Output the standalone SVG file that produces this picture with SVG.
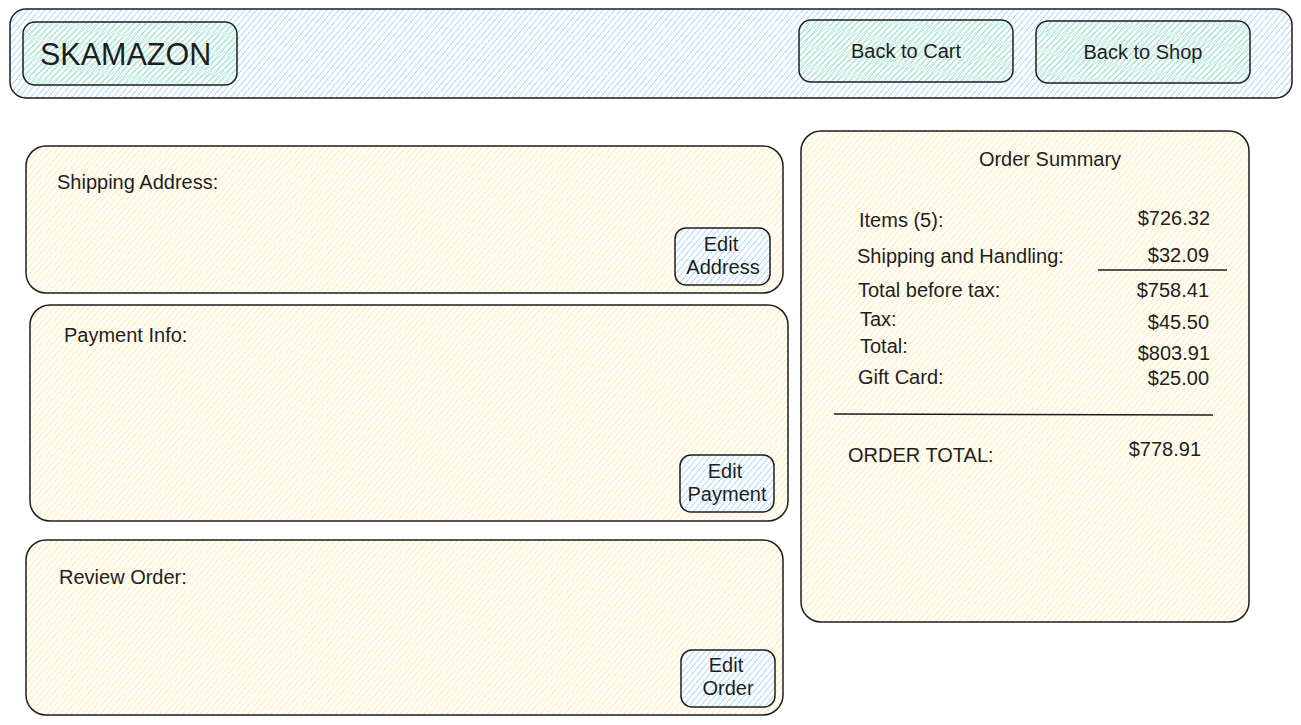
<svg xmlns="http://www.w3.org/2000/svg" width="1301" height="725" viewBox="0 0 1301 725">
<defs>
<pattern id="hBlue" width="4.5" height="4.5" patternUnits="userSpaceOnUse" patternTransform="rotate(40)">
<rect width="4.5" height="4.5" fill="#ffffff"/>
<line x1="0" y1="0" x2="0" y2="4.5" stroke="#74c0fc" stroke-width="1.2"/>
</pattern>
<pattern id="hYellow" width="4.5" height="4.5" patternUnits="userSpaceOnUse" patternTransform="rotate(40)">
<line x1="0" y1="0" x2="0" y2="4.5" stroke="#ffe066" stroke-width="1.2"/>
</pattern>
<pattern id="hGreen" width="4" height="4" patternUnits="userSpaceOnUse" patternTransform="rotate(50)">
<line x1="0" y1="0" x2="0" y2="4" stroke="#8ce99a" stroke-width="1.2"/>
</pattern>
</defs>
<style>
.box{stroke:#1e1e1e;stroke-width:1.5;}
.blue{fill:url(#hBlue);}
.yellow{fill:url(#hYellow);}
.green{fill:url(#hGreen);}
text{font-family:"Liberation Sans",Arial,sans-serif;font-size:20px;fill:#1e1e1e;}
.mid{text-anchor:middle;}
.end{text-anchor:end;}
.rule{stroke:#1e1e1e;stroke-width:1.5;fill:none;}
</style>
<rect width="1301" height="725" fill="#ffffff"/>

<g id="header">
<rect class="box blue" x="10" y="9" width="1282" height="89" rx="16"/>
</g>
<g id="logo">
<rect class="box green" x="23" y="22" width="214" height="63" rx="12"/>
<text x="40" y="65" style="font-size:30.5px">SKAMAZON</text>
</g>
<g id="back-to-cart">
<rect class="box green" x="799" y="20" width="214" height="62" rx="12"/>
<text class="mid" x="906" y="58">Back to Cart</text>
</g>
<g id="back-to-shop">
<rect class="box green" x="1036" y="21" width="214" height="62" rx="12"/>
<text class="mid" x="1143" y="59">Back to Shop</text>
</g>

<g id="shipping-address">
<rect class="box yellow" x="26" y="146" width="757" height="147" rx="20"/>
<text x="57" y="189">Shipping Address:</text>
</g>
<g id="edit-address">
<rect class="box blue" x="675" y="228" width="95" height="57" rx="11"/>
<text class="mid" x="721" y="251">Edit</text>
<text class="mid" x="723" y="274">Address</text>
</g>

<g id="payment-info">
<rect class="box yellow" x="30" y="305" width="758" height="216" rx="20"/>
<text x="64" y="342">Payment Info:</text>
</g>
<g id="edit-payment">
<rect class="box blue" x="680" y="455" width="94" height="57" rx="11"/>
<text class="mid" x="725" y="478">Edit</text>
<text class="mid" x="727" y="501">Payment</text>
</g>

<g id="review-order">
<rect class="box yellow" x="26" y="540" width="757" height="175" rx="20"/>
<text x="59" y="584">Review Order:</text>
</g>
<g id="edit-order">
<rect class="box blue" x="681" y="650" width="94" height="57" rx="11"/>
<text class="mid" x="726" y="672">Edit</text>
<text class="mid" x="728" y="695">Order</text>
</g>

<g id="order-summary">
<rect class="box yellow" x="801" y="131" width="448" height="491" rx="20"/>
<text class="mid" x="1050" y="166">Order Summary</text>
<text x="859" y="227">Items (5):</text>
<text class="end" x="1210" y="225">$726.32</text>
<text x="857" y="263">Shipping and Handling:</text>
<text class="end" x="1209" y="262">$32.09</text>
<line class="rule" x1="1098" y1="270" x2="1227" y2="270"/>
<text x="858" y="297">Total before tax:</text>
<text class="end" x="1209" y="297">$758.41</text>
<text x="860" y="326">Tax:</text>
<text class="end" x="1209" y="329">$45.50</text>
<text x="860" y="353">Total:</text>
<text class="end" x="1210" y="360">$803.91</text>
<text x="858" y="384">Gift Card:</text>
<text class="end" x="1209" y="385">$25.00</text>
<line class="rule" x1="834" y1="414" x2="1213" y2="415"/>
<text x="848" y="462">ORDER TOTAL:</text>
<text class="end" x="1201" y="456">$778.91</text>
</g>
</svg>
